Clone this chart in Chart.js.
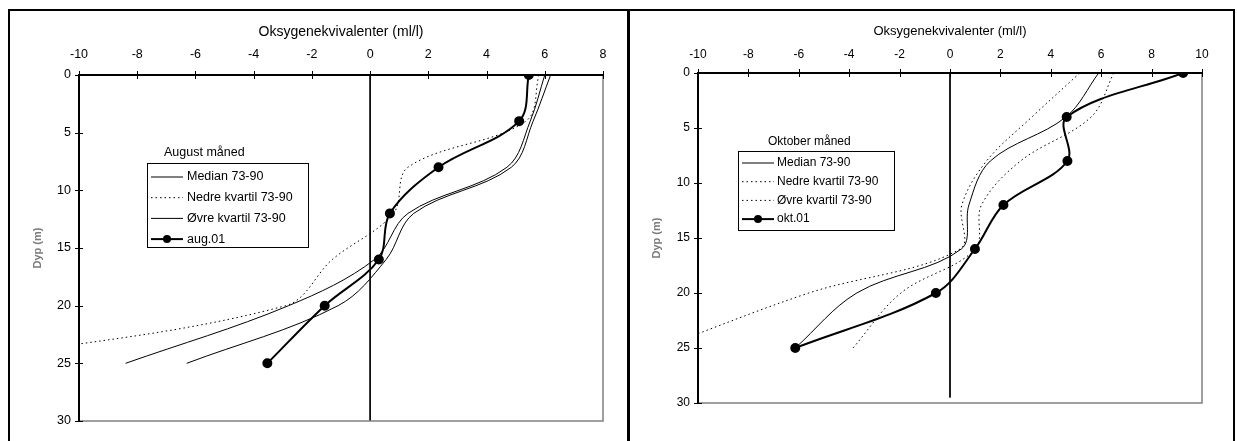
<!DOCTYPE html>
<html>
<head>
<meta charset="utf-8">
<script src="https://cdn.jsdelivr.net/npm/chart.js@4.4.1/dist/chart.umd.min.js"></script>
<style>
  html, body { margin: 0; padding: 0; background: #fff; }
  body { width: 1237px; height: 441px; position: relative; overflow: hidden; }
  .frame { position: absolute; top: 9px; height: 460px; border: 2px solid #000; box-sizing: border-box; }
  #f1 { left: 8px; width: 622px; }
  #f2 { left: 627px; width: 608px; }
  canvas { position: absolute; top: 0; }
  #c1 { left: 0; }
  #c2 { left: 628px; }
</style>
</head>
<body>
<div class="frame" id="f1"></div>
<div class="frame" id="f2"></div>
<canvas id="c1" width="628" height="441"></canvas>
<canvas id="c2" width="609" height="441"></canvas>
<script>
(function () {
  'use strict';

  // depth of each measurement (m)
  const depths = [0, 4, 8, 12, 16, 20, 25];
  const depthTicks = [0, 5, 10, 15, 20, 25, 30];

  // August
  const augTicks = [-10, -8, -6, -4, -2, 0, 2, 4, 6, 8];
  const augMedian = [6.0, 5.5, 4.7, 1.3, 0.15, -2.8, -8.4];
  const augNedre = [5.8, 5.35, 1.3, 0.8, -1.3, -2.9, -14.5];
  const augOvre = [6.2, 5.6, 4.85, 1.5, 0.55, -1.1, -6.3];
  const aug01 = [5.45, 5.12, 2.35, 0.68, 0.3, -1.56, -3.53];

  // Oktober
  const oktTicks = [-10, -8, -6, -4, -2, 0, 2, 4, 6, 8, 10];
  const oktMedian = [5.9, 4.6, 1.6, 0.75, 0.45, -3.7, -6.14];
  const oktNedre = [5.15, 3.25, 1.45, 0.47, 0.4, -5.6, -11.5];
  const oktOvre = [6.5, 5.6, 2.8, 1.25, 1.0, -1.95, -3.85];
  const okt01 = [9.25, 4.63, 4.66, 2.12, 0.99, -0.56, -6.14];

  const FONT = '"Liberation Sans", Arial, sans-serif';
  const DOTS = [1.5, 3];

  const pts = vals => vals.map((v, i) => ({ x: v, y: depths[i] }));

  const axisFrame = {
    id: 'axisFrame',
    afterDatasetsDraw(chart) {
      const { ctx, chartArea: a, scales: { x, y } } = chart;
      ctx.save();
      ctx.strokeStyle = '#808080';
      ctx.lineWidth = 1.5;
      ctx.beginPath();
      ctx.moveTo(a.right, a.top);
      ctx.lineTo(a.right, a.bottom);
      ctx.lineTo(a.left, a.bottom);
      ctx.stroke();
      ctx.strokeStyle = '#000';
      ctx.lineWidth = 2;
      ctx.beginPath();
      ctx.moveTo(a.left, a.bottom);
      ctx.lineTo(a.left, a.top);
      ctx.lineTo(a.right, a.top);
      ctx.stroke();
      ctx.lineWidth = 1;
      ctx.beginPath();
      x.ticks.forEach(t => {
        const px = Math.round(x.getPixelForValue(t.value)) + 0.5;
        ctx.moveTo(px, a.top - 4);
        ctx.lineTo(px, a.top + 4);
      });
      y.ticks.forEach(t => {
        const py = Math.round(y.getPixelForValue(t.value)) + 0.5;
        ctx.moveTo(a.left - 4, py);
        ctx.lineTo(a.left + 4, py);
      });
      ctx.stroke();
      ctx.restore();
    }
  };

  const boxLegend = {
    id: 'boxLegend',
    afterDraw(chart, args, o) {
      const ctx = chart.ctx;
      ctx.save();
      ctx.font = o.size + 'px ' + FONT;
      ctx.textBaseline = 'middle';
      ctx.fillStyle = '#000';
      ctx.fillText(o.title, o.titleX, o.titleY);
      ctx.fillStyle = '#fff';
      ctx.fillRect(o.x, o.y, o.w, o.h);
      ctx.strokeStyle = '#000';
      ctx.lineWidth = 1;
      ctx.strokeRect(o.x + 0.5, o.y + 0.5, o.w, o.h);
      chart.data.datasets.filter(d => d.label).forEach((d, i) => {
        const yy = o.rowY + i * o.rowGap;
        ctx.beginPath();
        ctx.setLineDash(d.borderDash || []);
        ctx.lineWidth = d.borderWidth;
        ctx.moveTo(o.lineX1, yy);
        ctx.lineTo(o.lineX2, yy);
        ctx.stroke();
        ctx.setLineDash([]);
        if (d.pointRadius) {
          ctx.beginPath();
          ctx.arc((o.lineX1 + o.lineX2) / 2, yy, d.pointRadius, 0, Math.PI * 2);
          ctx.fillStyle = '#000';
          ctx.fill();
        }
        ctx.fillStyle = '#000';
        ctx.fillText(d.label, o.textX, yy);
      });
      ctx.restore();
    }
  };

  function series(label, vals, kind) {
    const base = { label, data: pts(vals), borderColor: '#000', backgroundColor: '#000', tension: 0.35, pointRadius: 0, borderWidth: 1 };
    if (kind === 'dots') base.borderDash = DOTS;
    if (kind === 'obs') { base.borderWidth = 2; base.pointRadius = 4; }
    return base;
  }

  function makeChart(id, c) {
    return new Chart(document.getElementById(id), {
      type: 'line',
      data: {
        datasets: [
          ...c.sets,
          { label: '', data: [{ x: 0, y: 0 }, { x: 0, y: c.zeroEnd }], borderColor: '#000', borderWidth: 1, pointRadius: 0, tension: 0 }
        ]
      },
      options: {
        responsive: false,
        animation: false,
        events: [],
        layout: { padding: c.pad },
        plugins: { legend: { display: false }, tooltip: { enabled: false }, boxLegend: c.legend },
        scales: {
          x: {
            type: 'linear', position: 'top', min: c.ticks[0], max: c.ticks[c.ticks.length - 1],
            afterBuildTicks: s => { s.ticks = c.ticks.map(v => ({ value: v })); },
            afterFit: s => { s.height = c.top; },
            grid: { display: false, drawTicks: false },
            border: { display: false },
            ticks: { color: '#000', font: { family: FONT, size: c.tickSize }, padding: c.xTickPad, maxRotation: 0 },
            title: { display: true, text: 'Oksygenekvivalenter (ml/l)', color: '#000', font: { family: FONT, size: c.titleSize }, padding: { top: c.xTitlePad, bottom: 0 } }
          },
          y: {
            type: 'linear', reverse: true, min: 0, max: 30,
            afterBuildTicks: s => { s.ticks = depthTicks.map(v => ({ value: v })); },
            afterFit: s => { s.width = c.left; },
            grid: { display: false, drawTicks: false },
            border: { display: false },
            ticks: { color: '#000', font: { family: FONT, size: c.tickSize }, padding: 8 },
            title: { display: true, text: 'Dyp (m)', color: '#7a7a7a', font: { family: FONT, size: 11, weight: 'bold' }, padding: { top: c.yTitlePad, bottom: 0 } }
          }
        }
      },
      plugins: [axisFrame, boxLegend]
    });
  }

  function init() {
    makeChart('c1', {
      ticks: augTicks, top: 75, left: 79, pad: { left: 0, top: 0, right: 25, bottom: 20 },
      tickSize: 12.5, titleSize: 14, xTickPad: 12.5, xTitlePad: 23.5, yTitlePad: 31, zeroEnd: 30,
      sets: [
        series('Median 73-90', augMedian, 'line'),
        series('Nedre kvartil 73-90', augNedre, 'dots'),
        series('Øvre kvartil 73-90', augOvre, 'line'),
        series('aug.01', aug01, 'obs')
      ],
      legend: { size: 12.5, title: 'August måned', titleX: 164, titleY: 153, x: 147, y: 163, w: 161, h: 84, rowY: 177, rowGap: 20.7, lineX1: 151, lineX2: 183, textX: 187 }
    });
    makeChart('c2', {
      ticks: oktTicks, top: 73, left: 70, pad: { left: 0, top: 0, right: 35, bottom: 38 },
      tickSize: 12, titleSize: 13, xTickPad: 11.5, xTitlePad: 24, yTitlePad: 22, zeroEnd: 29.5,
      sets: [
        series('Median 73-90', oktMedian, 'line'),
        series('Nedre kvartil 73-90', oktNedre, 'dots'),
        series('Øvre kvartil 73-90', oktOvre, 'dots'),
        series('okt.01', okt01, 'obs')
      ],
      legend: { size: 12, title: 'Oktober måned', titleX: 140, titleY: 142, x: 110, y: 151, w: 156, h: 79, rowY: 163, rowGap: 18.7, lineX1: 114, lineX2: 146, textX: 149 }
    });
  }

  document.readyState === 'loading'
    ? document.addEventListener('DOMContentLoaded', init)
    : init();
})();
</script>
</body>
</html>
